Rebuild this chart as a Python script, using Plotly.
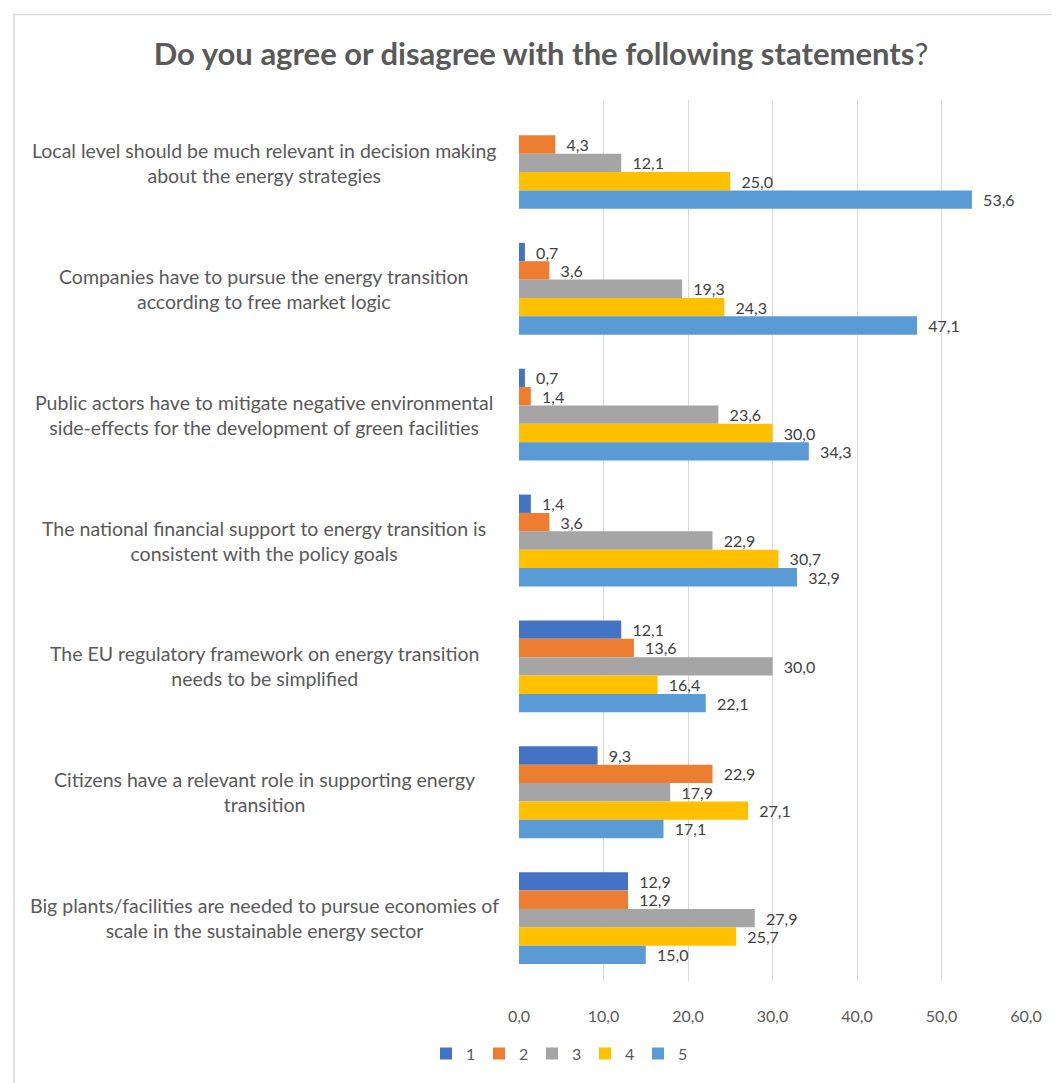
import plotly.graph_objects as go

categories = [
    "Local level should be much relevant in decision making<br>about the energy strategies",
    "Companies have to pursue the energy transition<br>according to free market logic",
    "Public actors have to mitigate negative environmental<br>side-effects for the development of green facilities",
    "The national financial support to energy transition is<br>consistent with the policy goals",
    "The EU regulatory framework on energy transition<br>needs to be simplified",
    "Citizens have a relevant role in supporting energy<br>transition",
    "Big plants/facilities are needed to pursue economies of<br>scale in the sustainable energy sector",
]
series_names = ["1", "2", "3", "4", "5"]
s1 = [None, 0.7, 0.7, 1.4, 12.1, 9.3, 12.9]
s2 = [4.3, 3.6, 1.4, 3.6, 13.6, 22.9, 12.9]
s3 = [12.1, 19.3, 23.6, 22.9, 30.0, 17.9, 27.9]
s4 = [25.0, 24.3, 30.0, 30.7, 16.4, 27.1, 25.7]
s5 = [53.6, 47.1, 34.3, 32.9, 22.1, 17.1, 15.0]
tick_vals = [0, 10, 20, 30, 40, 50, 60]

colors = ["#4472C4", "#ED7D31", "#A5A5A5", "#FFC000", "#5B9BD5"]
OFF = 8  # page body margin
W, H = 1059 - OFF, 1083 - OFF
# target plot-area edges in screen pixels
L, R, T, B = 519, 1026, 100, 985
FONT = "Lato, sans-serif"

fig = go.Figure()
for name, vals, col in zip(series_names, [s1, s2, s3, s4, s5], colors):
    fig.add_trace(go.Bar(
        y=list(range(len(categories))), x=vals, name=name, orientation="h",
        marker=dict(color=col, line=dict(width=0)),
        texttemplate="\u00a0\u00a0%{x:.1f}", textposition="outside", cliponaxis=False,
        constraintext="none",
        textfont=dict(family=FONT, size=16, color="#404040"),
    ))

def px_x(p):
    return (p - L) / (R - L)

def px_y(p):
    return (B - p) / (B - T)

annotations = []
for i, c in enumerate(categories):
    annotations.append(dict(
        x=px_x(264), xref="paper", y=i, yref="y", text=c, showarrow=False,
        xanchor="center", yanchor="middle", align="center",
        font=dict(family=FONT, size=19.5, color="#595959"),
    ))

fig.update_layout(
    width=W, height=H,
    margin=dict(l=L - OFF, r=W + OFF - R, t=T - OFF, b=H + OFF - B, pad=0),
    paper_bgcolor="white", plot_bgcolor="white",
    separators=",.",
    barmode="group", bargap=0.27, bargroupgap=0,
    title=dict(text="<b>Do you agree or disagree with the following statements</b>?",
               x=((152 + 930) / 2 - OFF) / W, xanchor="center",
               y=1 - (54 - OFF) / H, yanchor="middle",
               font=dict(family=FONT, size=31, color="#595959")),
    xaxis=dict(range=[0, 60], tickvals=tick_vals, tickformat=".1f",
               showgrid=True, gridcolor="#D9D9D9", gridwidth=1, zeroline=False,
               showline=False, ticks="", ticklabelstandoff=24,
               tickfont=dict(family=FONT, size=16, color="#595959")),
    yaxis=dict(autorange="reversed", showticklabels=False, showgrid=False,
               zeroline=False, showline=False, ticks=""),
    legend=dict(orientation="h", x=px_x(426), xanchor="left", y=px_y(1058), yanchor="middle",
                font=dict(family=FONT, size=16, color="#595959"),
                itemwidth=30, entrywidth=8, entrywidthmode="pixels",
                tracegroupgap=0, bgcolor="rgba(0,0,0,0)"),
    annotations=annotations,
    shapes=[dict(type="rect", xref="paper", yref="paper",
                 x0=px_x(14), x1=px_x(1080), y0=px_y(14), y1=px_y(1100),
                 line=dict(color="#D9D9D9", width=1.5), layer="below")],
)

fig.write_html("out.html")
